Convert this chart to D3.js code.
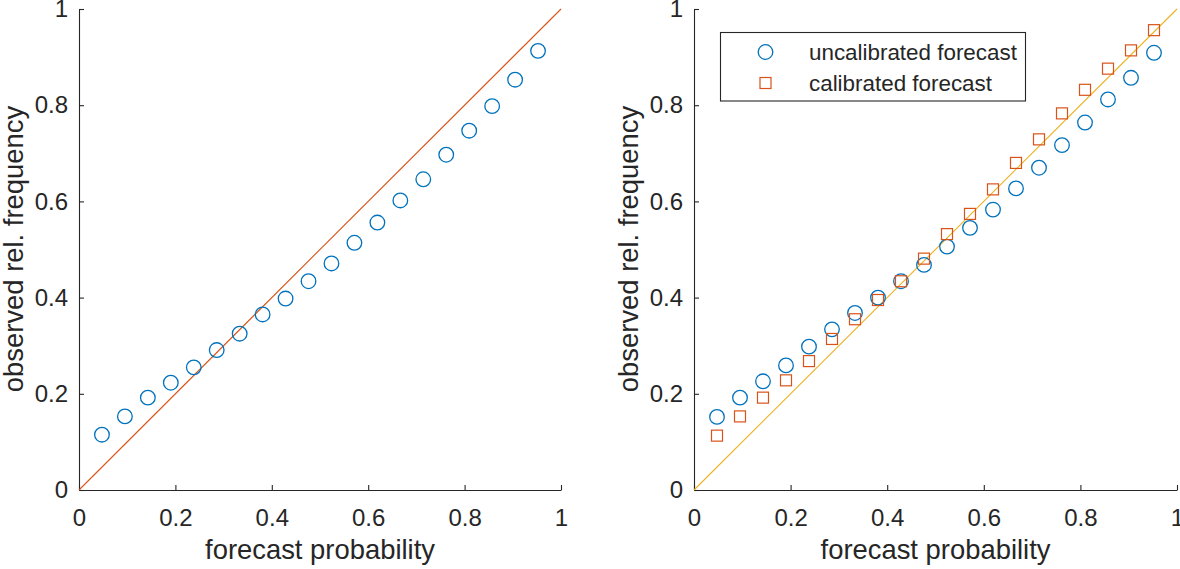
<!DOCTYPE html>
<html><head><meta charset="utf-8">
<script src="https://cdn.jsdelivr.net/npm/d3@7"></script>
<style>body{margin:0;background:#fff}svg{display:block}text{font-family:"Liberation Sans",Arial,sans-serif;fill:#262626}</style>
</head><body>
<svg id="c" width="1180" height="569"></svg>
<script>
const forecastProb = [1,2,3,4,5,6,7,8,9,10,11,12,13,14,15,16,17,18,19,20].map(k => k/21);
const leftObserved = [0.115,0.153,0.192,0.223,0.255,0.291,0.325,0.365,0.398,0.434,0.471,0.514,0.556,0.602,0.646,0.697,0.747,0.798,0.853,0.913];
const uncalibrated = [0.152,0.192,0.226,0.259,0.298,0.334,0.368,0.400,0.434,0.468,0.506,0.545,0.583,0.627,0.670,0.717,0.764,0.812,0.857,0.909];
const calibrated = [0.113,0.153,0.192,0.228,0.268,0.314,0.355,0.395,0.434,0.481,0.532,0.574,0.625,0.680,0.729,0.783,0.832,0.876,0.914,0.956];
const tickValues = [0,0.2,0.4,0.6,0.8,1];
const legendLabels = ["uncalibrated forecast","calibrated forecast"];
const xLabel = "forecast probability", yLabel = "observed rel. frequency";

const BLUE="#0072BD", ORANGE="#D95319", YELLOW="#EDB120", AX="#262626";
const svg = d3.select("#c");
const fmt = d => d===0||d===1 ? String(d) : d.toFixed(1);

function panel(x0, x1, diagColor) {
  const x = d3.scaleLinear().domain([0,1]).range([x0,x1]);
  const y = d3.scaleLinear().domain([0,1]).range([490,9]);
  const g = svg.append("g");
  const gx = g.append("g").attr("transform","translate(0,490)")
    .call(d3.axisBottom(x).tickValues(tickValues).tickFormat(fmt).tickSizeInner(-5).tickSizeOuter(0).tickPadding(19));
  const gy = g.append("g").attr("transform",`translate(${x0},0)`)
    .call(d3.axisLeft(y).tickValues(tickValues).tickFormat(fmt).tickSizeInner(-5).tickSizeOuter(0).tickPadding(11));
  [gx,gy].forEach(a=>{
    a.selectAll("path,line").attr("stroke",AX).attr("stroke-width",1.1);
    a.selectAll("text").attr("font-size",24).style("font-family",'"Liberation Sans",Arial,sans-serif').attr("fill",AX);
  });
  g.append("text").attr("x",(x0+x1)/2).attr("y",559).attr("text-anchor","middle").attr("font-size",27.4).text(xLabel);
  g.append("text").attr("transform",`translate(${x0-56},${249}) rotate(-90)`).attr("text-anchor","middle").attr("font-size",27.4).text(yLabel);
  g.append("line").attr("x1",x(0)).attr("y1",y(0)).attr("x2",x(1)).attr("y2",y(1)).attr("stroke",diagColor).attr("stroke-width",1.1);
  return {g,x,y};
}

const L = panel(79, 561, ORANGE);
L.g.selectAll("circle.o").data(forecastProb).join("circle")
  .attr("cx",d=>L.x(d)).attr("cy",(d,i)=>L.y(leftObserved[i])).attr("r",7.3)
  .attr("fill","none").attr("stroke",BLUE).attr("stroke-width",1.3);

const R = panel(694, 1177, YELLOW);
R.g.selectAll("circle.o").data(forecastProb).join("circle")
  .attr("cx",d=>R.x(d)).attr("cy",(d,i)=>R.y(uncalibrated[i])).attr("r",7.3)
  .attr("fill","none").attr("stroke",BLUE).attr("stroke-width",1.3);
const s = 11;
R.g.selectAll("rect.s").data(forecastProb).join("rect")
  .attr("x",d=>R.x(d)-s/2).attr("y",(d,i)=>R.y(calibrated[i])-s/2).attr("width",s).attr("height",s)
  .attr("fill","none").attr("stroke",ORANGE).attr("stroke-width",1.2);

// legend
const lg = svg.append("g");
lg.append("rect").attr("x",720.5).attr("y",32.5).attr("width",305).attr("height",68.5).attr("fill","#fff").attr("stroke",AX).attr("stroke-width",1.1);
lg.append("circle").attr("cx",765.5).attr("cy",52).attr("r",7.3).attr("fill","none").attr("stroke",BLUE).attr("stroke-width",1.3);
lg.append("rect").attr("x",765.5-s/2).attr("y",83-s/2).attr("width",s).attr("height",s).attr("fill","none").attr("stroke",ORANGE).attr("stroke-width",1.2);
lg.selectAll("text.l").data(legendLabels).join("text").attr("x",809).attr("y",(d,i)=>52+i*31).attr("dy","0.35em").attr("font-size",22.4).text(d=>d);
</script>
</body></html>
